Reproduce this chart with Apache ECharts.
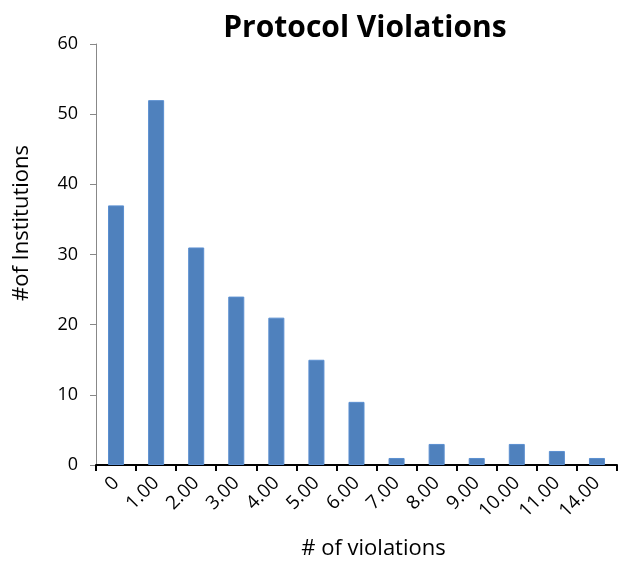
<!DOCTYPE html>
<html><head><meta charset="utf-8">
<script src="https://cdn.jsdelivr.net/npm/echarts@6/dist/echarts.min.js"></script>
<style>html,body{margin:0;padding:0;background:#fff}#c{width:619px;height:564px}</style>
</head><body><div id="c"></div>
<script>
const categories = ["0","1.00","2.00","3.00","4.00","5.00","6.00","7.00","8.00","9.00","10.00","11.00","14.00"];
const counts = [37, 52, 31, 24, 21, 15, 9, 1, 3, 1, 3, 2, 1];
const yTicks = {min: 0, max: 60, interval: 10};

const chart = echarts.init(document.getElementById('c'), null, {renderer: 'canvas'});
const font = '"Open Sans", "DejaVu Sans", sans-serif';
chart.setOption({
  animation: false,
  title: {
    text: 'Protocol Violations', left: 360, top: 8, textAlign: 'center',
    textStyle: {fontFamily: font, fontWeight: 'bold', fontSize: 30, color: '#000'}
  },
  grid: {left: 96, right: 2, top: 44, bottom: 99, outerBoundsMode: 'none'},
  xAxis: {
    type: 'category', data: categories,
    name: '# of violations', nameLocation: 'middle', nameGap: 73,
    nameTextStyle: {fontFamily: font, fontSize: 22, color: '#000', padding: [0, 0, 0, 34]},
    axisLine: {lineStyle: {color: '#000', width: 2}},
    axisTick: {show: true, length: 6, lineStyle: {color: '#000', width: 2}},
    axisLabel: {rotate: 45, fontFamily: font, fontSize: 19, color: '#000', margin: 15}
  },
  yAxis: {
    type: 'value', min: yTicks.min, max: yTicks.max, interval: yTicks.interval,
    name: '#of Institutions', nameLocation: 'middle', nameGap: 63,
    nameTextStyle: {fontFamily: font, fontSize: 22, color: '#000', padding: [0, 0, 0, 63]},
    axisLine: {show: true, lineStyle: {color: '#888', width: 1}},
    axisTick: {show: true, length: 6, lineStyle: {color: '#888'}},
    splitLine: {show: false},
    axisLabel: {fontFamily: font, fontSize: 18, color: '#000', margin: 18}
  },
  series: [{
    type: 'bar', data: counts, barWidth: '40%',
    itemStyle: {color: '#4f81bd', borderColor: '#5b8fd0', borderWidth: 1}
  }]
});
</script></body></html>
